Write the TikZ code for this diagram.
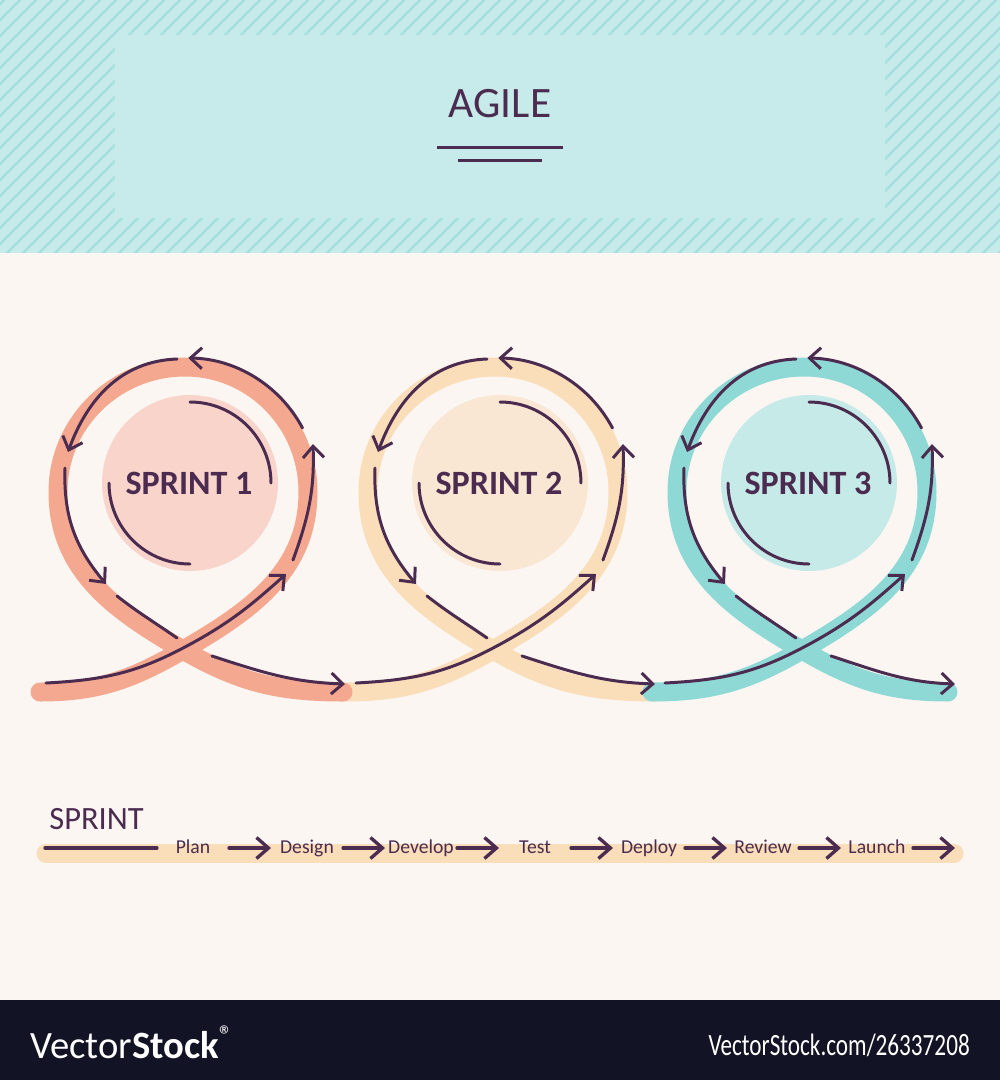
\documentclass[tikz,border=0pt]{standalone}
\usepackage{fontspec}
\setmainfont{Carlito}
\usetikzlibrary{arrows.meta,calc}

\definecolor{agileink}{HTML}{4B2C50}
\definecolor{pagebg}{HTML}{FBF6F2}
\definecolor{topbg}{HTML}{C6EBEA}
\definecolor{stripecol}{HTML}{A6DFDC}
\definecolor{barbg}{HTML}{121425}
\definecolor{salmonband}{HTML}{F4A88F}
\definecolor{salmonfill}{HTML}{F9D4CB}
\definecolor{yellowband}{HTML}{FADDB9}
\definecolor{yellowfill}{HTML}{FAE7D3}
\definecolor{tealband}{HTML}{8ED8D6}
\definecolor{tealfill}{HTML}{C6EAE8}

\tikzset{
  ink/.style={draw=agileink, line width=1.7pt, line cap=round},
  inkarrow/.style={ink, -{Straight Barb[length=0.23cm,width=0.42cm]}},
  band/.style={line width=0.38cm, line cap=round},
  stripe/.style={draw=stripecol, line width=0.05cm},
  sprintlabel/.style={anchor=base, inner sep=0, text=agileink, font=\fontsize{19.4}{22}\selectfont\bfseries},
  steplabel/.style={anchor=base, inner sep=0, text=agileink, font=\fontsize{11.2}{14}\selectfont},
  steparrow/.style={draw=agileink, line width=1.9pt, line cap=round, -{Straight Barb[length=0.24cm,width=0.42cm]}},
}

\begin{document}
\begin{tikzpicture}[x=0.02cm, y=0.02cm]
  \useasboundingbox (0,0) rectangle (1000,-1080);
  % header with stripes
  \fill[topbg] (0,0) rectangle (1000,-253);
  \begin{scope}
    \clip (0,0) rectangle (1000,-253);
    \foreach \i in {-272,-256,...,1000}
      \draw[stripe] (\i,-260) -- ++(270,270);
  \end{scope}
  \fill[topbg] (115,-35) rectangle (885,-218);
  \node[anchor=base, inner sep=0, text=agileink, font=\fontsize{24.7}{28}\selectfont] (title) at (500,-117) {AGILE};
  \draw[ink, line cap=butt] (437,-147) -- (563,-147);
  \draw[ink, line cap=butt] (458,-160) -- (542,-160);
  % page
  \fill[pagebg] (0,-253) rectangle (1000,-1000);
  % loops (yellow one below the others)
  \foreach \cx/\sx/\ex/\col in {493/345/656/yellowband, 183/40/343/salmonband, 802/652/948/tealband}
    \draw[band, draw=\col] (\sx,-692) to[out=0,in=210] (\cx,-650)
      to[out=30,in=270] (\cx+125,-492) to[out=90,in=0] (\cx+2,-367)
      to[out=180,in=90] (\cx-125,-492) to[out=270,in=150] (\cx,-650)
      to[out=-30,in=180] (\ex,-692);
  % sprint circles
  \foreach \cx/\col/\n in {183/salmonfill/1, 493/yellowfill/2, 802/tealfill/3} {
    \fill[\col] (\cx+7,-483) circle[radius=88];
    \node[sprintlabel] (sprint\n) at (\cx+6,-494) {SPRINT \n};
    \draw[ink] (\cx+7,-402) arc[start angle=90, end angle=0, radius=81];
    \draw[ink] (\cx-74,-483) arc[start angle=180, end angle=270, radius=81];
  }
  % arrows along the loops
  \foreach \cx/\ex in {183/345, 493/655, 802/955} {
    \draw[inkarrow] (\cx-137,-683) to[out=3,in=208] (\cx+2,-647) to[out=28,in=222] (\cx+103,-574);
    \draw[inkarrow] (\cx+110,-560) to[out=70,in=272] (\cx+130,-444);
    \draw[inkarrow] (\cx+119.5,-428) arc[start angle=28, end angle=89, radius=132];
    \draw[inkarrow] (\cx-6,-359) to[out=182,in=70] (\cx-115,-452);
    \draw[inkarrow] (\cx-118,-468) to[out=268,in=130] (\cx-77,-584);
    \draw[ink] (\cx-66,-596) to[out=-38,in=145] (\cx-6,-638);
    \draw[inkarrow] (\cx+29,-656) to[out=-18,in=178] (\ex,-684);
  }
  % sprint steps
  \draw[band, draw=yellowband] (46,-853) -- (954,-853);
  \node[anchor=base west, inner sep=0, text=agileink, font=\fontsize{18.5}{21}\selectfont] (sprinthead) at (49,-829) {SPRINT};
  \coordinate (tlstart) at (45,-848);
  \coordinate (tlend) at (157,-848);
  \draw[steparrow, -] (tlstart) -- (tlend);
  \foreach \w [count=\k from 0] in {Plan,Design,Develop,Test,Deploy,Review,Launch} {
    \node[steplabel] (\w) at (193+114*\k,-853) {\w};
    \coordinate (from\w) at (229+114*\k,-848);
    \coordinate (to\w) at (271+114*\k,-848);
    \draw[steparrow] (from\w) -- (to\w);
  }
  % footer bar
  \fill[barbg] (0,-1000) rectangle (1000,-1080);
  \node[anchor=base west, inner sep=0, text=white, font=\fontsize{22}{24}\selectfont] (vslogo) at (30,-1058) {Vector\textbf{Stock}\textsuperscript{\textregistered}};
  \node[anchor=base east, inner sep=0, text=white, font=\fontsize{17.6}{20}\selectfont, xscale=0.75] (vsurl) at (970,-1055) {VectorStock.com/26337208};
\end{tikzpicture}
\end{document}
